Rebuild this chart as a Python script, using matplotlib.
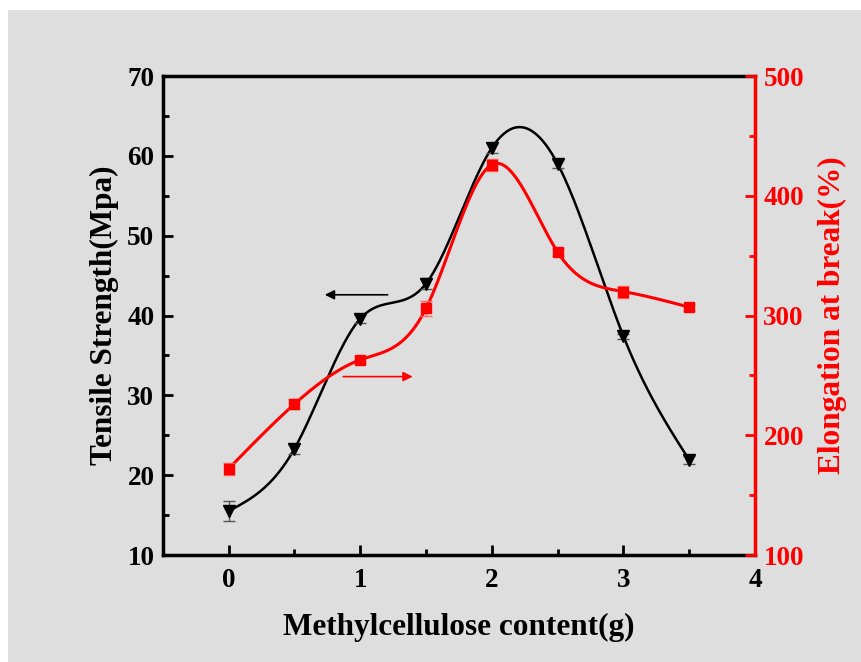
import numpy as np
import matplotlib
matplotlib.use('Agg')
import matplotlib.pyplot as plt
from matplotlib.ticker import MultipleLocator
from matplotlib.patches import Rectangle

# data
content = [0, 0.5, 1, 1.5, 2, 2.5, 3, 3.5]
tensile = [15.5, 23.3, 39.6, 44.0, 61.0, 59.0, 37.4, 21.9]
tensile_err = [1.3, 0.6, 0.5, 0.7, 0.6, 0.5, 0.3, 0.5]
elongation = [172, 226, 263, 306, 426, 353, 320, 307]
elongation_err = [5, 4, 3, 6, 5, 3, 5, 3]


def spline(x, y, n=300):
    # natural cubic spline, only for drawing the smooth line
    x = np.asarray(x, float)
    y = np.asarray(y, float)
    k = len(x)
    h = np.diff(x)
    A = np.zeros((k, k))
    b = np.zeros(k)
    A[0, 0] = A[-1, -1] = 1
    for i in range(1, k - 1):
        A[i, i - 1] = h[i - 1]
        A[i, i] = 2 * (h[i - 1] + h[i])
        A[i, i + 1] = h[i]
        b[i] = 6 * ((y[i + 1] - y[i]) / h[i] - (y[i] - y[i - 1]) / h[i - 1])
    M = np.linalg.solve(A, b)
    xs = np.linspace(x[0], x[-1], n)
    j = np.clip(np.searchsorted(x, xs) - 1, 0, k - 2)
    t0 = x[j + 1] - xs
    t1 = xs - x[j]
    hj = h[j]
    ys = (M[j] * t0**3 + M[j + 1] * t1**3) / (6 * hj) \
        + (y[j] / hj - M[j] * hj / 6) * t0 + (y[j + 1] / hj - M[j + 1] * hj / 6) * t1
    return xs, ys


plt.rcParams['font.family'] = 'Liberation Serif'
plt.rcParams['font.weight'] = 'bold'

bg = '#dedede'
fig = plt.figure(figsize=(8.61, 6.62), dpi=100, facecolor=bg)
# white strips along the top and left edge
fig.patches.append(Rectangle((0, 1 - 10 / 662), 1, 10 / 662, transform=fig.transFigure,
                             facecolor='white', edgecolor='none', zorder=-1))
fig.patches.append(Rectangle((0, 0), 8 / 861, 1, transform=fig.transFigure,
                             facecolor='white', edgecolor='none', zorder=-1))

ax = fig.add_axes([0.189, 0.1616, 0.688, 0.7235])
ax.set_facecolor(bg)
ax2 = ax.twinx()

xs, ys = spline(content, tensile)
ax.plot(xs, ys, color='black', lw=1.8)
ax.errorbar(content, tensile, yerr=tensile_err, fmt='v', color='black', ms=9,
            ecolor='#555555', elinewidth=1, capsize=4)

xs, ys = spline(content, elongation)
ax2.plot(xs, ys, color='red', lw=2.2)
ax2.errorbar(content, elongation, yerr=elongation_err, fmt='s', color='red', ms=7,
             ecolor='#ff6666', elinewidth=1, capsize=4)

ax.annotate('', xy=(0.71, 42.6), xytext=(1.23, 42.6),
            arrowprops=dict(arrowstyle='-|>', color='black', lw=1.2, mutation_scale=14))
ax2.annotate('', xy=(1.42, 249), xytext=(0.85, 249),
             arrowprops=dict(arrowstyle='-|>', color='red', lw=1.2, mutation_scale=14))

ax.set_xlim(-0.5, 4)
ax.set_ylim(10, 70)
ax2.set_ylim(100, 500)
ax.xaxis.set_major_locator(MultipleLocator(1))
ax.xaxis.set_minor_locator(MultipleLocator(0.5))
ax.yaxis.set_major_locator(MultipleLocator(10))
ax.yaxis.set_minor_locator(MultipleLocator(5))
ax2.yaxis.set_major_locator(MultipleLocator(100))
ax2.yaxis.set_minor_locator(MultipleLocator(50))

ax.tick_params(which='both', direction='in', width=2, labelsize=19.5, pad=6)
ax.tick_params(axis='x', pad=9)
ax.tick_params(which='major', length=7)
ax.tick_params(which='minor', length=4)
ax.tick_params(axis='x', top=False)
ax2.tick_params(which='both', direction='in', width=2, colors='red', labelsize=19.5, pad=6)
ax2.tick_params(which='major', length=7)
ax2.tick_params(which='minor', length=4)

for s in ['left', 'bottom', 'top']:
    ax.spines[s].set_linewidth(2.5)
ax2.spines['right'].set_color('red')
ax2.spines['right'].set_linewidth(2.5)
for s in ['left', 'bottom', 'top']:
    ax2.spines[s].set_visible(False)

ax.set_xlabel('Methylcellulose content(g)', fontsize=22.5, fontweight='bold', labelpad=15)
ax.set_ylabel('Tensile Strength(Mpa)', fontsize=22.5, fontweight='bold', labelpad=6)
ax2.set_ylabel('Elongation at break(%)', fontsize=22.5, fontweight='bold', color='red', labelpad=10)

fig.savefig('out.png', dpi=100, facecolor=fig.get_facecolor())
